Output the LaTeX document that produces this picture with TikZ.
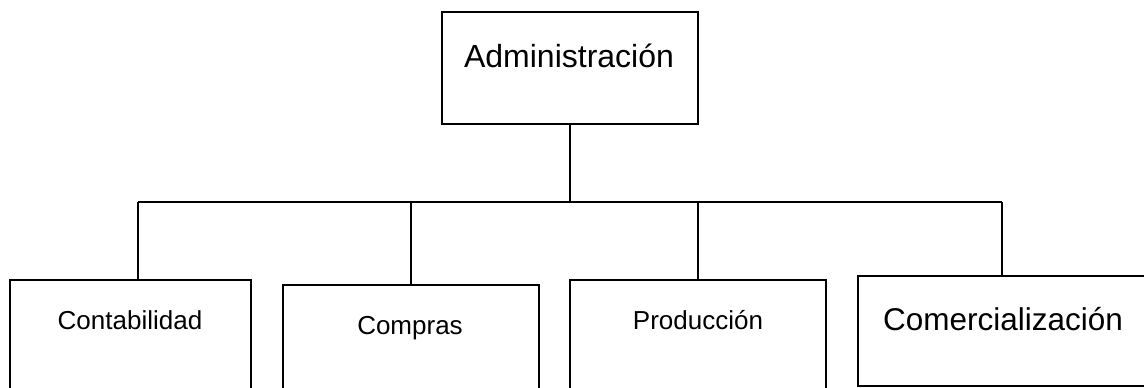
\documentclass[tikz,border=0pt]{standalone}
\usepackage{fontspec}
\setmainfont{Liberation Sans}
\begin{document}
\begin{tikzpicture}[x=1pt,y=-1pt,
  box/.style={draw=black,line width=1.8pt,minimum width=#1,inner sep=0pt},
  lbl/.style={anchor=base,inner sep=0pt,font=\fontsize{#1}{#1}\selectfont},
  conn/.style={draw=black,line width=1.8pt}]
\useasboundingbox (0,0) rectangle (1144,388);
% boxes
\node[box=256pt,minimum height=112pt] (adm)  at (570,68) {};
\node[box=241pt,minimum height=130pt] (cont) at (130.5,345) {};
\node[box=256pt,minimum height=125pt] (comp) at (411,347.5) {};
\node[box=256pt,minimum height=130pt] (prod) at (698,345) {};
\node[box=288pt,minimum height=110pt] (come) at (1002,331) {};
% labels
\node[lbl=32] (tadm)  at (569,67)  {Administración};
\node[lbl=26] (tcont) at (130,329) {Contabilidad};
\node[lbl=26] (tcomp) at (410,334) {Compras};
\node[lbl=26] (tprod) at (698,329) {Producción};
\node[lbl=31.5] (tcome) at (1003,330) {Comercialización};
% connectors
\coordinate (dL) at (138,202);
\coordinate (dR) at (1002,202);
\draw[conn] (dL) -- (dR);
\draw[conn] (adm.south) -- (adm.south |- dL);
\draw[conn] (dL) -- (dL |- cont.north);
\draw[conn] (comp.north |- dL) -- (comp.north);
\draw[conn] (prod.north |- dL) -- (prod.north);
\draw[conn] (dR) -- (come.north);
\end{tikzpicture}
\end{document}
